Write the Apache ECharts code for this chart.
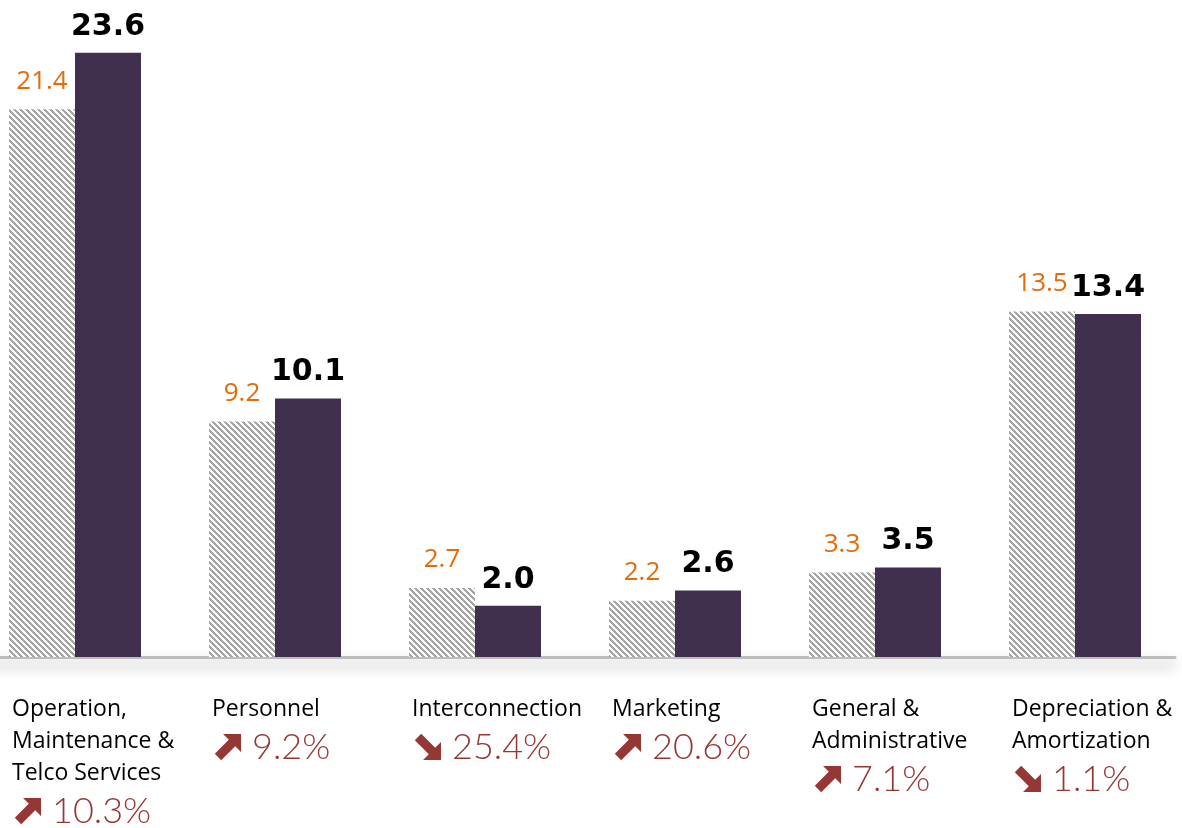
<!DOCTYPE html>
<html><head><meta charset="utf-8">
<script src="https://cdn.jsdelivr.net/npm/echarts@6/dist/echarts.min.js"></script>
<style>html,body{margin:0;padding:0;background:#fff}#c{width:1182px;height:828px}</style>
</head><body><div id="c"></div>
<script>
const categories = ['Operation,\nMaintenance &\nTelco Services', 'Personnel', 'Interconnection', 'Marketing', 'General &\nAdministrative', 'Depreciation &\nAmortization'];
const previousValues = [21.4, 9.2, 2.7, 2.2, 3.3, 13.5];
const currentValues = [23.6, 10.1, 2.0, 2.6, 3.5, 13.4];
const changeDirection = ['up', 'up', 'down', 'up', 'up', 'down'];
const changePct = ['10.3', '9.2', '25.4', '20.6', '7.1', '1.1'];

function hatch() {
  const s = 6, c = document.createElement('canvas');
  c.width = s; c.height = s;
  const ctx = c.getContext('2d');
  const img = ctx.createImageData(s, s);
  for (let y = 0; y < s; y++) for (let x = 0; x < s; x++) {
    const d = ((x - y) % s + s) % s;
    const v = d < 3 ? 165 : 255;
    const i = (y * s + x) * 4;
    img.data[i] = v; img.data[i+1] = v; img.data[i+2] = v; img.data[i+3] = 255;
  }
  ctx.putImageData(img, 0, 0);
  return c;
}

function arrowIcon(down) {
  const c = document.createElement('canvas');
  c.width = 40; c.height = 28;
  const ctx = c.getContext('2d');
  if (down) { ctx.translate(0, 28); ctx.scale(1, -1); }
  ctx.translate(3, 1);
  ctx.fillStyle = '#953735';
  ctx.beginPath();
  const pts = [[8,0],[26,0],[26,18],[20.2,12.2],[6.2,26.2],[-0.2,19.8],[13.8,5.8]];
  pts.forEach((p, k) => k ? ctx.lineTo(p[0], p[1]) : ctx.moveTo(p[0], p[1]));
  ctx.closePath();
  ctx.fill();
  return c;
}

const chart = echarts.init(document.getElementById('c'));
chart.setOption({
  animation: false,
  grid: { left: -25, right: 7, top: 17, bottom: 171, containLabel: false, outerBoundsMode: 'none' },
  xAxis: {
    type: 'category', data: categories, offset: 6,
    axisTick: { show: false },
    axisLine: { lineStyle: { color: '#bdbdbd', width: 3, shadowColor: 'rgba(0,0,0,0.4)', shadowBlur: 14, shadowOffsetY: 7 } },
    axisLabel: {
      interval: 0, hideOverlap: false, align: 'left', verticalAlign: 'top', margin: 30,
      padding: [0, 0, 0, -63],
      formatter: function (v, i) {
        const lines = v.split('\n').map(l => '{n|' + l + '}');
        const a = changeDirection[i] === 'up' ? 'up' : 'dn';
        lines.push('{' + a + '|}{p|' + changePct[i] + '%}');
        return lines.join('\n');
      },
      rich: {
        n: { fontFamily: 'Open Sans', fontSize: 23, color: '#000', lineHeight: 32, align: 'left' },
        up: { width: 40, height: 28, lineHeight: 44, backgroundColor: { image: arrowIcon(false) }, align: 'left' },
        dn: { width: 40, height: 28, lineHeight: 44, backgroundColor: { image: arrowIcon(true) }, align: 'left' },
        p: { fontFamily: 'Lato', fontWeight: 300, fontSize: 36, color: '#953735', lineHeight: 44, align: 'left' }
      }
    }
  },
  yAxis: { type: 'value', min: 0, max: 25, show: false, splitLine: { show: false } },
  series: [
    {
      type: 'bar', data: previousValues, barWidth: 66, barGap: '0%',
      itemStyle: { color: { image: hatch(), repeat: 'repeat' } },
      label: { show: true, position: 'top', distance: 15, fontFamily: 'Open Sans', fontSize: 26, color: '#E36C0A', formatter: p => p.value.toFixed(1) }
    },
    {
      type: 'bar', data: currentValues, barWidth: 66,
      itemStyle: { color: '#412F50' },
      label: { show: true, position: 'top', distance: 11, fontFamily: 'DejaVu Sans', fontWeight: 'bold', fontSize: 30, color: '#000', formatter: p => p.value.toFixed(1) }
    }
  ]
});
</script></body></html>
